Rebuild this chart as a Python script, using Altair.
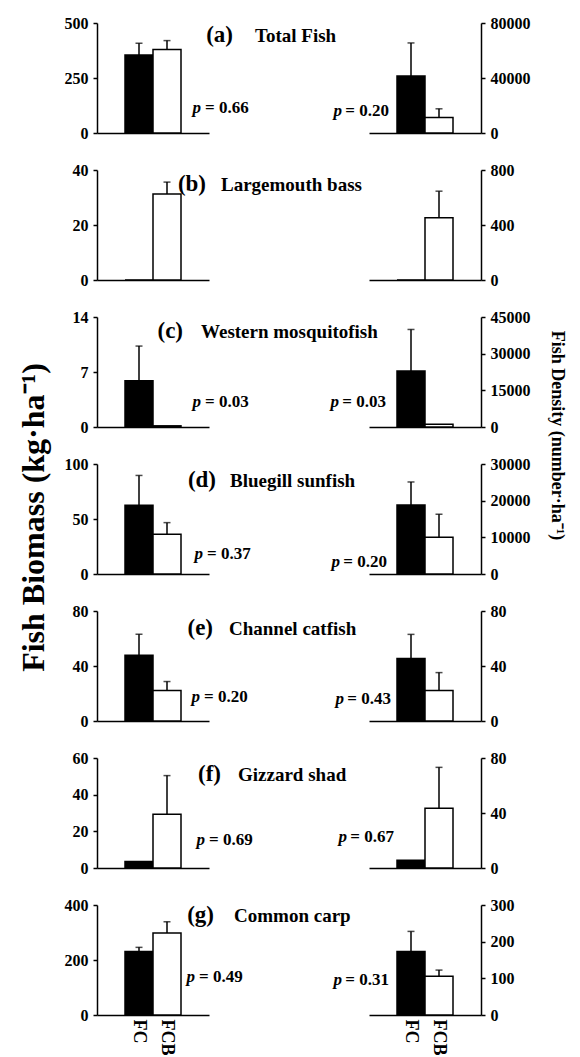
import altair as alt
import pandas as pd

# ---------------- data ----------------
letters = ["(a)", "(b)", "(c)", "(d)", "(e)", "(f)", "(g)"]
species = ["Total Fish", "Largemouth bass", "Western mosquitofish", "Bluegill sunfish",
           "Channel catfish", "Gizzard shad", "Common carp"]
groups = ["FC", "FCB"]

biomass_fc = [355, 0, 5.9, 62.6, 47.9, 3.6, 231]
biomass_fc_se = [53, 0, 4.4, 27, 15.2, 0, 15]
biomass_fcb = [380, 31.3, 0.15, 36.2, 22.2, 29.3, 298]
biomass_fcb_se = [40, 4.3, 0, 10.5, 6.5, 21.1, 41]

density_fc = [41500, 0, 22900, 18800, 45.5, 5.6, 173]
density_fc_se = [24000, 0, 17000, 6300, 17.5, 0, 55]
density_fcb = [11300, 453, 1100, 10000, 22.2, 43.4, 105.5]
density_fcb_se = [6300, 193, 0, 6300, 13, 29.8, 17]

p_biomass = ["0.66", "", "0.03", "0.37", "0.20", "0.69", "0.49"]
p_density = ["0.20", "", "0.03", "0.20", "0.43", "0.67", "0.31"]

biomass_max = [500, 40, 14, 100, 80, 60, 400]
biomass_ticks = [[0, 250, 500], [0, 20, 40], [0, 7, 14], [0, 50, 100], [0, 40, 80],
                 [0, 20, 40, 60], [0, 200, 400]]
density_max = [80000, 800, 45000, 30000, 80, 80, 300]
density_ticks = [[0, 40000, 80000], [0, 400, 800], [0, 15000, 30000, 45000],
                 [0, 10000, 20000, 30000], [0, 40, 80], [0, 40, 80], [0, 100, 200, 300]]

left_title = "Fish Biomass (kg\u00b7ha\u207b\u00b9)"
right_title = "Fish Density (number\u00b7ha\u207b\u00b9)"

# ---------------- layout (pixels, relative to each panel) ----------------
FONT = "Liberation Serif"
W, H = 112, 110
letter_end = [136, 109, 86, 119, 116, 124, 117]
name_start = [158, 124, 104, 133, 132, 141, 137]
title_y = [12, 14, 14, 16, 17, 16, 10]
pl_start = [96, 0, 96, 98, 95, 100, 90]
pl_y = [85, 0, 85, 90, 86, 82, 72]
pr_end = [20, 0, 17, 18, 22, 25, 20]
pr_y = [88, 0, 85, 98, 88, 79, 75]


def text_layer(txt, x, y, size, align, italic=False):
    return alt.Chart(pd.DataFrame({"t": [txt]})).mark_text(
        font=FONT, fontSize=size, fontWeight="bold",
        fontStyle="italic" if italic else "normal",
        align=align, baseline="middle", color="black"
    ).encode(x=alt.value(x), y=alt.value(y), text="t:N")


def panel(i, vals, ses, ymax, ticks, orient, extras, title_opts=None):
    df = pd.DataFrame({"group": groups, "v": vals, "se": ses})
    df["hi"] = df["v"] + df["se"]
    last = i == len(species) - 1
    xaxis = alt.Axis(title=None, ticks=False, labels=last, labelAngle=90,
                     labelPadding=4, labelFontSize=18)
    xenc = alt.X("group:N", sort=groups,
                 scale=alt.Scale(domain=groups, paddingInner=0, paddingOuter=1),
                 axis=xaxis)
    ykw = dict(orient=orient, values=ticks, format="d", title=None)
    if title_opts:
        ykw.update(title_opts)
    yaxis = alt.Axis(**ykw)
    yscale = alt.Scale(domain=[0, ymax], nice=False, zero=True)
    base = alt.Chart(df)
    bars = base.mark_bar(stroke="black", strokeWidth=1.5).encode(
        x=xenc,
        y=alt.Y("v:Q", scale=yscale, axis=yaxis),
        fill=alt.Fill("group:N", scale=alt.Scale(domain=groups, range=["#000000", "#ffffff"]),
                      legend=None),
    )
    err = base.transform_filter("datum.se > 0").mark_rule(color="black", strokeWidth=1.5).encode(
        x=xenc, y=alt.Y("v:Q", scale=yscale, axis=yaxis), y2="hi:Q")
    cap = base.transform_filter("datum.se > 0").mark_tick(color="black", thickness=1.5, size=7).encode(
        x=xenc, y=alt.Y("hi:Q", scale=yscale, axis=yaxis))
    return alt.layer(bars, err, cap, *extras).properties(width=W, height=H)


cells = []
for i in range(len(species)):
    # left panel: biomass
    lx = [text_layer(letters[i], letter_end[i], title_y[i], 23, "right"),
          text_layer(species[i], name_start[i], title_y[i] + 1, 19, "left")]
    if p_biomass[i]:
        split = pl_start[i] + 8
        lx += [text_layer("p", split, pl_y[i], 17, "right", italic=True),
               text_layer("= " + p_biomass[i], split + 4, pl_y[i], 17, "left")]
    lopts = None
    if i == 3:
        lopts = dict(title=left_title, titleX=-64, titleY=H / 2 - 2, titleAngle=270,
                     titleBaseline="middle", titleAlign="center", titleFontSize=32,
                     titleFont=FONT, titleFontWeight="bold", titleColor="black")
    cells.append(panel(i, [biomass_fc[i], biomass_fcb[i]], [biomass_fc_se[i], biomass_fcb_se[i]],
                       biomass_max[i], biomass_ticks[i], "left", lx, lopts))
    # right panel: density
    rx = []
    if p_density[i]:
        rx += [text_layer("= " + p_density[i], pr_end[i], pr_y[i], 17, "right"),
               text_layer("p", pr_end[i] - 47, pr_y[i], 17, "right", italic=True)]
    ropts = None
    if i == 2:
        ropts = dict(title=right_title, titleX=75, titleY=118, titleAngle=90,
                     titleBaseline="middle", titleAlign="center", titleFontSize=18,
                     titleFont=FONT, titleFontWeight="bold", titleColor="black")
    cells.append(panel(i, [density_fc[i], density_fcb[i]], [density_fc_se[i], density_fcb_se[i]],
                       density_max[i], density_ticks[i], "right", rx, ropts))

chart = alt.concat(
    *cells, columns=2, spacing={"row": 37, "column": 160}, bounds="flush"
).properties(
    padding={"left": 8, "top": 7, "right": 4, "bottom": 0}
).configure_view(stroke=None).configure_axis(
    domainColor="black", domainWidth=1.5, tickColor="black", tickWidth=1.5, tickSize=4,
    labelFont=FONT, labelFontSize=16, labelFontWeight="bold", labelColor="black",
    labelPadding=5, grid=False
)

chart.save("out.html", embed_options={"renderer": "svg", "actions": False})
